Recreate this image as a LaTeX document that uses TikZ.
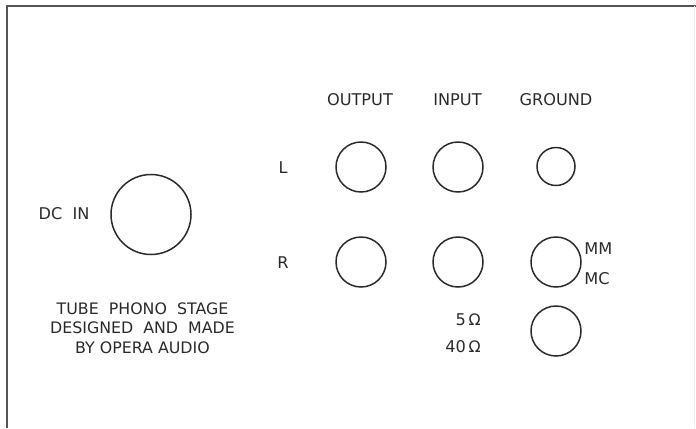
\documentclass[tikz,border=0pt]{standalone}
\usepackage{fontspec}
\setmainfont{DejaVu Sans}
\usetikzlibrary{positioning,calc}
\definecolor{inkgray}{HTML}{2A2A2A}
\definecolor{framegray}{HTML}{555555}
\tikzset{
	jack/.style={draw=inkgray,line width=0.85pt,circle,inner sep=0pt,minimum size=#1},
	jack/.default=1cm,
	lbl/.style={text=inkgray,font=\fontsize{9.2}{11}\selectfont,inner sep=0pt},
}
\begin{document}
\begin{tikzpicture}
	\useasboundingbox (0,0) rectangle (13.92,8.56);
	% panel edge
	\coordinate (TL) at (0.14,8.44);
	\coordinate (TR) at (13.92,8.44);
	\coordinate (BL) at (0.14,0);
	\draw[framegray,line width=1.2pt] (TR) -- (TL) -- (BL);
	\draw[gray!15,line width=0.4pt] (13.88,8.44) -- (13.88,0);
	
	% power
	\node (DC) at (3.02,4.27) [jack=1.6cm] {};
	\node (DCIN) at (1.28,4.28) [lbl] {DC\ \ IN};
	
	% sockets
	\node (OUTL) at (7.22,5.22) [jack] {};
	\node (INL) at (9.16,5.22) [jack] {};
	\node (GND) at (11.12,5.23) [jack=0.76cm] {};
	\node (OUTR) at (7.22,3.32) [jack] {};
	\node (INR) at (9.16,3.32) [jack] {};
	\node (MMMC) at (11.12,3.32) [jack] {};
	\node (LOAD) at (11.12,1.94) [jack] {};
	
	% headings
	\node (OUTPUT) at (7.2,6.56) [lbl] {OUTPUT};
	\node (INPUT) at (9.15,6.56) [lbl] {INPUT};
	\node (GROUND) at (11.12,6.56) [lbl] {GROUND};
	\node (L) at (5.66,5.2) [lbl] {L};
	\node (R) at (5.66,3.3) [lbl] {R};
	
	\node (MM) at (11.68,3.58) [lbl,anchor=west] {MM};
	\node (MC) at (11.68,2.98) [lbl,anchor=west] {MC};
	\node (FIVE) at (9.62,2.16) [lbl,anchor=east] {5\,{\small Ω}};
	\node (FORTY) at (9.62,1.62) [lbl,anchor=east] {40\,{\small Ω}};
	
	\node (MAKER) at (2.85,2.0) [lbl,align=center,font=\fontsize{9}{11}\selectfont] {TUBE\ \ PHONO\ \ STAGE\\DESIGNED\ \ AND\ \ MADE\\BY OPERA AUDIO};
\end{tikzpicture}
\end{document}
